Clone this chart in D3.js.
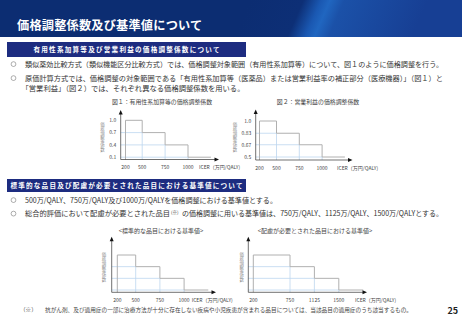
<!DOCTYPE html>
<html><head><meta charset="utf-8">
<script src="https://cdn.jsdelivr.net/npm/d3@7"></script>
<style>
body{margin:0;background:#fff}
svg{display:block}
text{font-family:"Noto Sans CJK JP","Noto Sans",sans-serif}
</style>
</head><body>
<svg id="c" width="462" height="320"></svg>
<script>
// ---------- data ----------
const pageTitle = "価格調整係数及び基準値について";
const section1Title = "有用性系加算等及び営業利益の価格調整係数について";
const section2Title = "標準的な品目及び配慮が必要とされた品目における基準値について";
const section1Lines = [
  "類似薬効比較方式（類似機能区分比較方式）では、価格調整対象範囲（有用性系加算等）について、図１のように価格調整を行う。",
  "原価計算方式では、価格調整の対象範囲である「有用性系加算等（医薬品）または営業利益率の補正部分（医療機器）」（図１）と",
  "「営業利益」（図２）では、それぞれ異なる価格調整係数を用いる。"
];
const section2Lines = [
  "500万/QALY、750万/QALY及び1000万/QALYを価格調整における基準値とする。",
  "総合的評価において配慮が必要とされた品目",
  "の価格調整に用いる基準値は、750万/QALY、1125万/QALY、1500万/QALYとする。"
];
const fig1Caption = "図１：有用性系加算等の価格調整係数";
const fig2Caption = "図２：営業利益の価格調整係数";
const fig3Caption = "<標準的な品目における基準値>";
const fig4Caption = "<配慮が必要とされた品目における基準値>";
const yAxisTitle = "価格調整係数";
const xAxisTitle = "ICER（万円/QALY)";
const footnoteMark = "（※）";
const footnote = "抗がん剤、及び適用症の一部に治療方法が十分に存在しない疾病や小児疾患が含まれる品目については、当該品目の適用症のうち該当するもの。";
const pageNumber = "25";

const fig1Breaks = [200, 500, 750, 1000];
const fig1Coef = [1.0, 0.7, 0.4, 0.1];
const fig1CoefLabels = ["1.0", "0.7", "0.4", "0.1"];
const fig2Breaks = [200, 500, 750, 1000];
const fig2Coef = [1.0, 0.83, 0.67, 0.5];
const fig2CoefLabels = ["1.0", "0.83", "0.67", "0.5"];
const stdBreaks = [200, 500, 750, 1000];
const stdLevels = [1.0, 0.7, 0.4, 0.1];
const careBreaks = [200, 750, 1125, 1500];
const careLevels = [1.0, 0.7, 0.4, 0.1];

// ---------- drawing ----------
const svg = d3.select("#c");
const defs = svg.append("defs");
const grad = defs.append("linearGradient").attr("id", "hdr")
  .attr("gradientUnits", "userSpaceOnUse")
  .attr("x1", 250).attr("y1", 0).attr("x2", 400).attr("y2", 65);
[[0, "#0c2d72"], [0.30, "#0d2f76"], [0.40, "#1a58b2"], [0.45, "#2066c0"], [0.53, "#1b51a8"], [1, "#173f94"]]
  .forEach(([o, c]) => grad.append("stop").attr("offset", o).attr("stop-color", c));

svg.append("rect").attr("x", 0).attr("y", 0).attr("width", 462).attr("height", 37).attr("fill", "url(#hdr)");
svg.append("text").attr("x", 17).attr("y", 29.5).attr("fill", "#fff")
  .attr("font-size", 12.2).attr("font-weight", "bold").attr("letter-spacing", 0.2).text(pageTitle);

const navy = "#1d2c80";
const boxLine = "#3d58a8";
const bodyColor = "#333";

function section(top, hdrH, boxBottom, title, titleLen) {
  svg.append("rect").attr("x", 7.5).attr("y", top + 0.5).attr("width", 445.5).attr("height", boxBottom - top)
    .attr("fill", "none").attr("stroke", boxLine).attr("stroke-width", 1);
  svg.append("rect").attr("x", 7).attr("y", top - hdrH + 1).attr("width", 239).attr("height", hdrH)
    .attr("fill", navy);
  svg.append("text").attr("x", 126.5).attr("y", top - hdrH / 2 + 3.4).attr("text-anchor", "middle")
    .attr("fill", "#fff").attr("font-size", 6.6).attr("font-weight", "bold")
    .attr("textLength", titleLen).attr("lengthAdjust", "spacing").text(title);
}
section(56, 15, 38, section1Title, 186);
section(191, 13, 31, section2Title, 232);

function bullet(y) {
  svg.append("circle").attr("cx", 13.5).attr("cy", y - 2.4).attr("r", 2.4)
    .attr("fill", "none").attr("stroke", "#777").attr("stroke-width", 0.6);
}
function line(x, y, t, len) {
  const s = svg.append("text").attr("x", x).attr("y", y).attr("fill", bodyColor).attr("font-size", 7.1).text(t);
  if (len) s.attr("textLength", len).attr("lengthAdjust", "spacingAndGlyphs");
  return s;
}
bullet(66.5); line(25, 66.5, section1Lines[0], 418);
bullet(80.5); line(25, 80.5, section1Lines[1], 418);
line(21.5, 91, section1Lines[2], 223);

bullet(202.5); line(25, 202.5, section2Lines[0], 252);
bullet(216); line(25, 216, section2Lines[1], 145);
svg.append("text").attr("x", 171).attr("y", 213.5).attr("fill", bodyColor).attr("font-size", 4.5).text("(※)");
line(182, 216, section2Lines[2], 261);

// captions
svg.append("text").attr("x", 162).attr("y", 103.8).attr("text-anchor", "middle").attr("fill", "#444").attr("font-size", 5.9).text(fig1Caption);
svg.append("text").attr("x", 318).attr("y", 103.8).attr("text-anchor", "middle").attr("fill", "#444").attr("font-size", 5.9).text(fig2Caption);
svg.append("text").attr("x", 161).attr("y", 232.5).attr("text-anchor", "middle").attr("fill", "#444").attr("font-size", 6).text(fig3Caption);
svg.append("text").attr("x", 315).attr("y", 232.5).attr("text-anchor", "middle").attr("fill", "#444").attr("font-size", 6).text(fig4Caption);

function stepChart(cfg) {
  const g = svg.append("g");
  const b = cfg.breaks;
  const dom = b.concat([b[3] + (b[3] - b[2])]);
  const rng = [0, cfg.g0, cfg.g0 + cfg.g, cfg.g0 + 2 * cfg.g, cfg.g0 + 3 * cfg.g].map(d => cfg.ox + cfg.x0 + d);
  const x = d3.scaleLinear().domain(dom).range(rng);
  const y = d3.scaleLinear().domain(cfg.yDomain).range(cfg.yRange);
  const lv = cfg.levels;
  // reference lines
  const refs = [];
  for (let i = 1; i < lv.length; i++) {
    refs.push([cfg.ox, y(lv[i]), x(b[i]), y(lv[i])]);
    refs.push([x(b[i]), y(lv[i]), x(b[i]), cfg.base]);
  }
  g.selectAll("line.ref").data(refs).join("line").attr("class", "ref")
    .attr("x1", d => d[0]).attr("y1", d => d[1]).attr("x2", d => d[2]).attr("y2", d => d[3])
    .attr("stroke", "#bcd6ef").attr("stroke-width", 0.8);
  // step path
  const path = d3.path();
  path.moveTo(x(b[0]), cfg.base);
  for (let i = 0; i < b.length; i++) {
    path.lineTo(x(b[i]), y(lv[i]));
    path.lineTo(x(dom[i + 1]), y(lv[i]));
  }
  g.append("path").attr("d", path.toString()).attr("fill", "none").attr("stroke", "#b0b0b0").attr("stroke-width", 1);
  // axes
  g.append("line").attr("x1", cfg.ox).attr("y1", cfg.base).attr("x2", cfg.ox).attr("y2", cfg.tip + 3)
    .attr("stroke", "#333").attr("stroke-width", 0.7);
  g.append("line").attr("x1", cfg.ox).attr("y1", cfg.base).attr("x2", cfg.arrowX - 3).attr("y2", cfg.base)
    .attr("stroke", "#333").attr("stroke-width", 0.7);
  g.append("path").attr("d", `M${cfg.ox},${cfg.tip}L${cfg.ox - 2},${cfg.tip + 4.5}L${cfg.ox + 2},${cfg.tip + 4.5}Z`).attr("fill", "#111");
  g.append("path").attr("d", `M${cfg.arrowX},${cfg.base}L${cfg.arrowX - 4.5},${cfg.base - 2}L${cfg.arrowX - 4.5},${cfg.base + 2}Z`).attr("fill", "#111");
  // x tick labels
  g.selectAll("text.xt").data(b).join("text").attr("class", "xt")
    .attr("x", d => x(d)).attr("y", cfg.base + 9.5).attr("text-anchor", "middle")
    .attr("fill", "#444").attr("font-size", 5).text(d => d);
  g.append("text").attr("x", cfg.icerX).attr("y", cfg.base + 9.5).attr("fill", "#444").attr("font-size", 5).text(xAxisTitle);
  // y tick labels
  if (cfg.yLabels) {
    g.selectAll("text.yt").data(lv).join("text").attr("class", "yt")
      .attr("x", cfg.ox - 4.5).attr("y", d => y(d) + 1.8).attr("text-anchor", "end")
      .attr("fill", "#444").attr("font-size", 5).text((d, i) => cfg.yLabels[i]);
  }
  // vertical y title
  const chars = Array.from(yAxisTitle);
  g.selectAll("text.yl").data(chars).join("text").attr("class", "yl")
    .attr("x", cfg.yTitleX).attr("y", (d, i) => cfg.yTitleCy + (i - (chars.length - 1) / 2) * 5 + 1.7)
    .attr("text-anchor", "middle").attr("fill", "#8a8a8a").attr("font-size", 4.4).text(d => d);
}

stepChart({ox: 120.7, tip: 110, base: 159.5, x0: 4.8, g0: 16.7, g: 22.9, arrowX: 219,
  breaks: fig1Breaks, levels: fig1Coef, yLabels: fig1CoefLabels, yDomain: [0.1, 1.0], yRange: [157.2, 120.3],
  icerX: 199, yTitleX: 102.5, yTitleCy: 137});
stepChart({ox: 255.7, tip: 109.5, base: 160, x0: 3.8, g0: 17, g: 22.8, arrowX: 352.5,
  breaks: fig2Breaks, levels: fig2Coef, yLabels: fig2CoefLabels, yDomain: [0.5, 1.0], yRange: [157, 121],
  icerX: 337, yTitleX: 235, yTitleCy: 137});
stepChart({ox: 111.7, tip: 236.7, base: 292.3, x0: 5.6, g0: 18.4, g: 24.2, arrowX: 216,
  breaks: stdBreaks, levels: stdLevels, yDomain: [0.1, 1.0], yRange: [290, 255],
  icerX: 191.7, yTitleX: 104, yTitleCy: 267});
stepChart({ox: 248.3, tip: 236.7, base: 292.3, x0: 5, g0: 36.7, g: 24.4, arrowX: 367,
  breaks: careBreaks, levels: careLevels, yDomain: [0.1, 1.0], yRange: [290, 255],
  icerX: 355, yTitleX: 241.7, yTitleCy: 267});

// footnote & page number
svg.append("text").attr("x", 20).attr("y", 312).attr("fill", "#444").attr("font-size", 5.6).text(footnoteMark);
svg.append("text").attr("x", 45).attr("y", 312).attr("fill", "#444").attr("font-size", 5.6)
  .attr("textLength", 367).attr("lengthAdjust", "spacingAndGlyphs").text(footnote);
svg.append("text").attr("x", 458).attr("y", 313.5).attr("text-anchor", "end").attr("fill", "#222")
  .attr("font-size", 9).attr("font-weight", "bold").attr("font-family", "Open Sans, sans-serif").text(pageNumber);
</script>
</body></html>
